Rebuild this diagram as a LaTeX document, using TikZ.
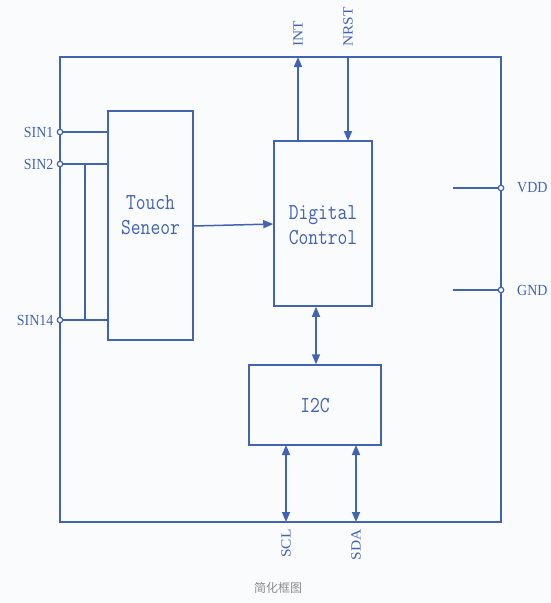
\documentclass[tikz,border=0pt]{standalone}
\usepackage{fontspec}
\setmainfont{Liberation Serif}
\newfontfamily\cjkfont{Noto Sans CJK SC}
\usetikzlibrary{arrows.meta}
\definecolor{lineblue}{RGB}{66,98,178}
\definecolor{bgcol}{RGB}{250,251,252}
\definecolor{capgray}{RGB}{140,140,140}
\begin{document}
\begin{tikzpicture}[x=1pt,y=-1pt,
  wire/.style={draw=lineblue,line width=1.5pt},
  blk/.style={draw=lineblue,line width=1.5pt,fill=none,inner sep=0pt},
  blktext/.style={text=lineblue,font=\ttfamily\fontsize{19}{20.5}\selectfont,align=center,yscale=1.2,transform shape},
  pinlab/.style={text=lineblue,font=\fontsize{14}{14}\selectfont,inner sep=3pt,yscale=1.1,transform shape},
  pin/.style={circle,draw=lineblue,fill=white,line width=1.2pt,minimum size=5.5pt,inner sep=0pt},
  arr/.style={wire,-{Triangle[length=10pt,width=8pt]}},
  darr/.style={wire,{Triangle[length=10pt,width=8pt]}-{Triangle[length=10pt,width=8pt]}}
]
\fill[bgcol] (0,0) rectangle (551,603);
\useasboundingbox (0,0) rectangle (551,603);
% outer box
\draw[wire] (60,57) rectangle (501,522);
% blocks
\node[blk,minimum width=85pt,minimum height=229pt] (ts) at (150.5,225.5) {};
\node[blktext] at (150.5,215) {Touch\\Seneor};
\node[blk,minimum width=98pt,minimum height=165pt] (dc) at (323,223.5) {};
\node[blktext] at (323,225) {Digital\\Control};
\node[blk,minimum width=132pt,minimum height=80pt] (i2c) at (315,405) {};
\node[blktext] at (315,406) {I2C};
% coordinates on outer box
\coordinate (intTop) at (298,57);
\coordinate (intBot) at (298,141);
\coordinate (nrstTop) at (348,57);
\coordinate (nrstBot) at (348,141);
\coordinate (sclTop) at (286,445);
\coordinate (sclBot) at (286,522);
\coordinate (sdaTop) at (356,445);
\coordinate (sdaBot) at (356,522);
% pins left
\coordinate (s1in) at (108,132);
\coordinate (s2in) at (108,164);
\coordinate (s14in) at (108,320);
\coordinate (bar1) at (85,164);
\coordinate (bar2) at (85,320);
\draw[wire] (60,132) -- (s1in);
\draw[wire] (60,164) -- (s2in);
\draw[wire] (60,320) -- (s14in);
\draw[wire] (bar1) -- (bar2);
\node[pin] (p1) at (60,132) {};
\node[pin] (p2) at (60,164) {};
\node[pin] (p14) at (60,320) {};
\node[pinlab,anchor=east] (l1) at (p1.west) {SIN1};
\node[pinlab,anchor=east] (l2) at (p2.west) {SIN2};
\node[pinlab,anchor=east] (l14) at (p14.west) {SIN14};
% pins right
\coordinate (vddin) at (453,188);
\coordinate (gndin) at (453,290);
\draw[wire] (vddin) -- (501,188);
\draw[wire] (gndin) -- (501,290);
\node[pin] (pv) at (501,188) {};
\node[pin] (pg) at (501,290) {};
\node[pinlab,anchor=west] (lv) at (514,188) {VDD};
\node[pinlab,anchor=west] (lg) at (514,290) {GND};
% arrows
\draw[arr] (ts.east |- 0,226) -- (dc.west |- 0,224);
\draw[arr] (intBot) -- (intTop);
\draw[arr] (nrstTop) -- (nrstBot);
\draw[darr] (dc.south -| 316,0) -- (i2c.north -| 316,0);
\draw[darr] (sclTop) -- (sclBot);
\draw[darr] (sdaTop) -- (sdaBot);
% rotated labels
\node[pinlab,rotate=90,anchor=west,inner sep=1pt] (lint) at (298,48) {INT};
\node[pinlab,rotate=90,anchor=west,inner sep=1pt] (lnrst) at (348,48) {NRST};
\node[pinlab,rotate=90,anchor=east,inner sep=1pt] (lscl) at (286,528) {SCL};
\node[pinlab,rotate=90,anchor=east,inner sep=1pt] (lsda) at (356,528) {SDA};
% caption
\node[text=capgray,font=\cjkfont\fontsize{12}{12}\selectfont] (cap) at (278,588) {简化框图};
\end{tikzpicture}
\end{document}
